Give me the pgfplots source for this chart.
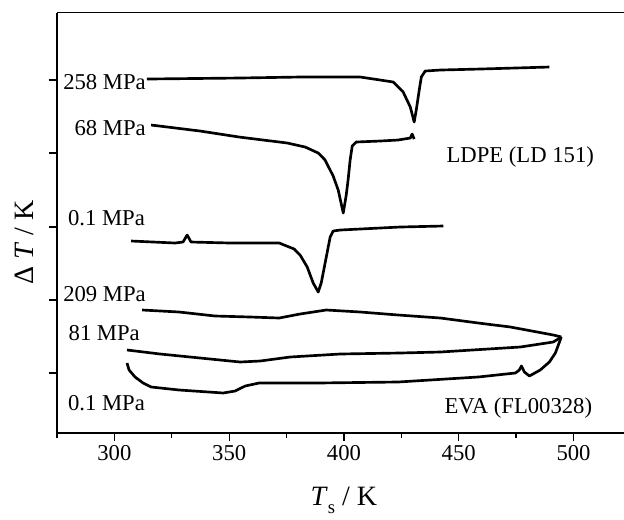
\documentclass[border=0pt]{standalone}
\usepackage{pgfplots}
\pgfplotsset{compat=1.18}
\usepackage{fontspec}
\setmainfont{Liberation Serif}
\newcommand{\lbl}{\fontsize{17}{20}\selectfont}
\begin{document}
\begin{tikzpicture}
\path[use as bounding box] (0,0) rectangle (468pt,390pt);
\begin{axis}[
  at={(42.75pt,65.25pt)}, anchor=south west,
  scale only axis, width=425.25pt, height=315.2pt,
  xmin=275, xmax=522, ymin=12.7, ymax=433, y dir=reverse,
  axis x line=box, axis y line=left, axis line style={-, line width=1.1pt},
  xtick={300,350,400,450,500}, minor xtick={275,325,375,425,475},
  xtick pos=left,
  ytick={80,153,227,300,373}, yticklabels={},
  tick align=outside, tick style={black, line width=1pt},
  major tick length=6pt, minor tick length=4pt,
  /pgf/number format/assume math mode=true,
  xticklabel style={font=\lbl},
  clip=false,
  every axis plot post/.append style={black, solid, line width=2pt, line join=round, mark=none},
]
% LDPE 258 MPa
\addplot coordinates {(314.2,79) (354.3,78) (380.9,77) (407.1,77) (415.8,80) (421.5,82) (425.8,92) (428.9,107) (430.6,122) (431.5,110) (432.8,90) (433.7,77) (435.4,71) (442.0,70) (459.4,69) (489.5,67)};
% LDPE 68 MPa
\addplot coordinates {(316.0,125) (337.3,131) (354.3,137) (375.3,143) (383.1,147) (388.8,153) (391.8,160) (393.1,166) (395.3,176) (397.5,190) (399.7,213) (401.0,195) (401.8,180) (402.7,160) (403.6,146) (405.3,142) (415.8,141) (423.6,140) (428.9,138) (429.7,134) (430.6,139)};
% LDPE 0.1 MPa
\addplot coordinates {(307.3,241) (326.4,243) (329.9,242) (331.7,235) (333.4,242) (350.4,243) (371.8,243) (378.3,249) (380.9,255) (384.0,267) (386.6,283) (388.8,292) (390.1,283) (391.8,263) (394.0,237) (395.3,231) (398.4,230) (424.5,227) (443.3,226)};
% EVA 209 MPa
\addplot coordinates {(312.1,310) (328.2,312) (343.9,316) (359.1,317) (371.8,318) (380.9,314) (392.3,310) (407.1,312) (423.6,315) (442.0,318) (458.5,323) (472.5,327) (484.2,332) (491.2,335) (494.7,337)};
% EVA 81 MPa
\addplot coordinates {(305.5,350) (319.9,354) (337.3,358) (354.8,362) (363.5,361) (376.6,357) (398.4,354) (424.5,353) (442.0,352) (476.8,347) (491.2,342) (494.7,337)};
% EVA 0.1 MPa
\addplot coordinates {(305.5,363) (306.4,370) (309.0,377) (312.5,383) (316.0,387) (328.2,390) (347.4,393) (352.6,391) (357.0,386) (363.1,383) (388.8,383) (423.6,382) (458.5,377) (474.7,373) (476.4,370) (477.3,366) (478.6,372) (480.8,376) (485.5,370) (489.5,362) (492.1,353) (494.7,337)};
\node[anchor=east, inner sep=0pt, font=\lbl] at (axis cs:313.8,82) {258 MPa};
\node[anchor=east, inner sep=0pt, font=\lbl] at (axis cs:313.8,128) {68 MPa};
\node[anchor=east, inner sep=0pt, font=\lbl] at (axis cs:313.4,218) {0.1 MPa};
\node[anchor=east, inner sep=0pt, font=\lbl] at (axis cs:313.8,294) {209 MPa};
\node[anchor=east, inner sep=0pt, font=\lbl] at (axis cs:311.2,333) {81 MPa};
\node[anchor=east, inner sep=0pt, font=\lbl] at (axis cs:313.4,403) {0.1 MPa};
\node[anchor=west, inner sep=0pt, font=\lbl] at (axis cs:444.6,157) {LDPE (LD 151)};
\node[anchor=west, inner sep=0pt, font=\lbl] at (axis cs:443.7,408) {EVA (FL00328)};
\node[anchor=base, inner sep=0pt, font=\fontsize{21}{25}\selectfont] at (axis description cs:0.506,-0.172) {\textit{T}\raisebox{-0.3em}{\fontsize{14}{16}\selectfont s} / K};
\node[anchor=center, rotate=90, inner sep=0pt, font=\fontsize{21}{25}\selectfont] at (axis description cs:-0.058,0.454) {Δ \textit{T} / K};
\end{axis}
\end{tikzpicture}
\end{document}
